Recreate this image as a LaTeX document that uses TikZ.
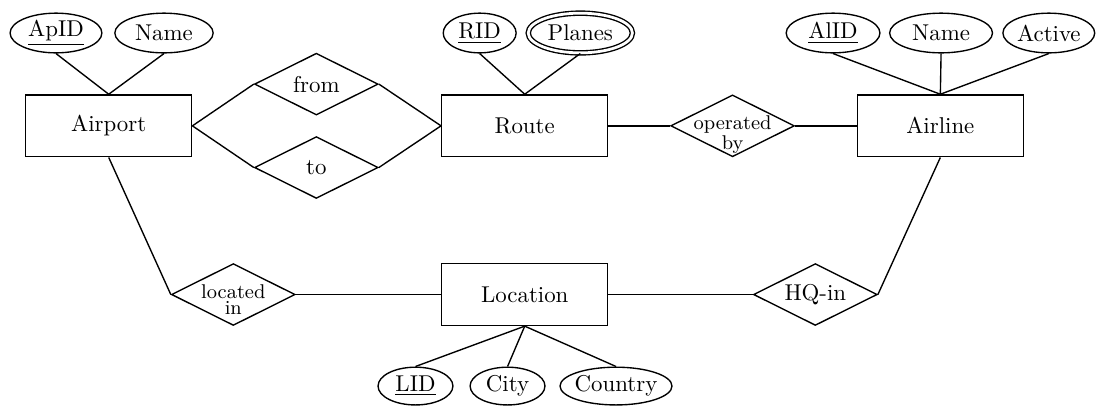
\documentclass[tikz,border=0pt]{standalone}
\usetikzlibrary{shapes.geometric}
\tikzset{
  entity/.style={draw, rectangle, minimum width=2.55cm, minimum height=0.95cm},
  attr/.style={draw, ellipse, inner xsep=-2pt, inner ysep=0pt, minimum height=0.61cm},
  multiattr/.style={attr, double, double distance=1.2pt},
  rel/.style={draw, diamond, shape aspect=2, inner sep=0pt, minimum width=1.9cm, minimum height=0.95cm},
  reltext/.style={align=center, inner sep=0pt, anchor=north, font=\fontsize{8.7}{7.4}\selectfont}
}
\begin{document}
\begin{tikzpicture}[semithick]
\useasboundingbox (0,0) rectangle (16.835,6.237);
\node [entity] (airport) at (1.670,4.304) {Airport};
\node [entity] (route) at (8.060,4.304) {Route};
\node [entity] (airline) at (14.444,4.304) {Airline};
\node [entity] (location) at (8.060,1.713) {Location};
\node [rel] (from) at (4.859,4.945) {from};
\node [rel] (to) at (4.859,3.664) {to};
\node [rel] (opby) at (11.252,4.304) {};
\node [reltext] (opbytext) at ([yshift=4.8pt]opby.center) {operated\\by};
\node [rel] (locin) at (3.584,1.713) {};
\node [reltext] (locintext) at ([yshift=4.8pt]locin.center) {located\\in};
\node [rel] (hqin) at (12.524,1.713) {HQ-in};
\node [attr,minimum width=1.41cm] (apid) at (0.860,5.73) {\underline{ApID}};
\node [attr,minimum width=1.51cm] (apname) at (2.519,5.73) {Name};
\node [attr,minimum width=1.12cm] (rid) at (7.368,5.73) {\underline{RID}};
\node [multiattr,minimum width=1.6cm] (planes) at (8.914,5.73) {Planes};
\node [attr,minimum width=1.44cm] (alid) at (12.796,5.73) {\underline{AlID}};
\node [attr,minimum width=1.58cm] (alname) at (14.455,5.73) {Name};
\node [attr,minimum width=1.41cm] (active) at (16.11,5.73) {Active};
\node [attr,minimum width=1.15cm,minimum height=0.58cm] (lid) at (6.382,0.307) {\underline{LID}};
\node [attr,minimum width=1.15cm,minimum height=0.58cm] (city) at (7.796,0.307) {City};
\node [attr,minimum width=1.72cm,minimum height=0.58cm] (country) at (9.462,0.307) {Country};
\draw (apid.south) -- (airport.north);
\draw (apname.south) -- (airport.north);
\draw (airport.east) -- (from.west);
\draw (airport.east) -- (to.west);
\draw (from.east) -- (route.west);
\draw (to.east) -- (route.west);
\draw (rid.south) -- (route.north);
\draw (planes.south) -- (route.north);
\draw (route) -- (opby) -- (airline);
\draw (alid.south) -- (airline.north);
\draw (alname.south) -- (airline.north);
\draw (active.south) -- (airline.north);
\draw (airport.south) -- (locin.west);
\draw (locin) -- (location) -- (hqin);
\draw (hqin.east) -- (airline.south);
\draw (location.south) -- (lid.north);
\draw (location.south) -- (city.north);
\draw (location.south) -- (country.north);
\end{tikzpicture}
\end{document}
